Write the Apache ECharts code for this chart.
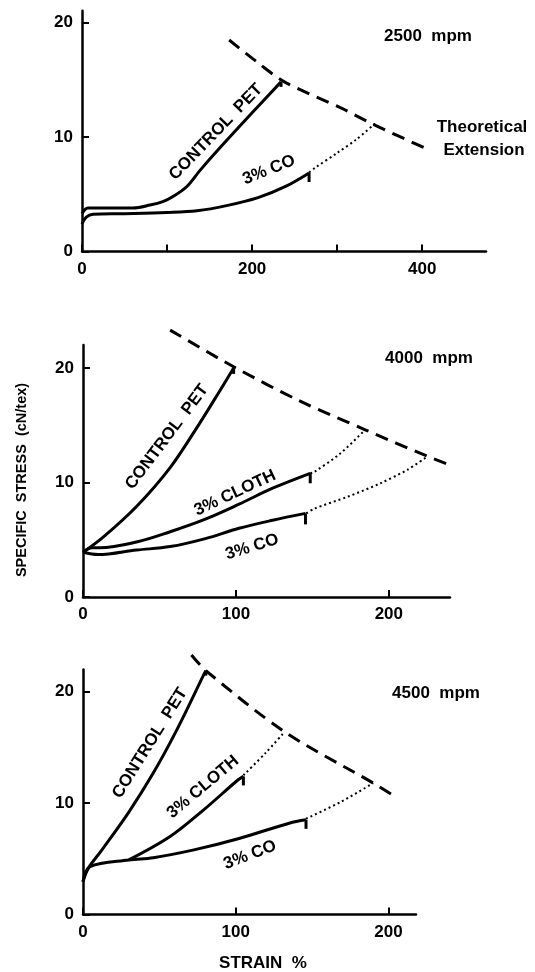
<!DOCTYPE html>
<html>
<head>
<meta charset="utf-8">
<script src="https://cdn.jsdelivr.net/npm/echarts@6/dist/echarts.min.js"></script>
<style>
  body { margin: 0; background: #fff; }
  #chart { width: 535px; height: 972px; }
</style>
</head>
<body>
<div id="chart"></div>
<script>
// ---- tick values / labels ----
var yTicks = [0, 10, 20];
var xTicks2500 = [0, 100, 200, 300, 400];
var xLabels2500 = [0, 200, 400];
var xTicksHigh = [0, 100, 200];

// ---- 2500 mpm ----
var pet2500 = [[0, 3.3], [7, 3.8], [30, 3.8], [60, 3.8], [80, 4.05], [95, 4.35], [107, 4.8], [123, 5.65], [139, 7.1], [164, 9.2], [200, 12.1], [234, 14.8]];
var co2500 = [[0, 2.4], [5, 3.0], [13, 3.25], [50, 3.3], [100, 3.4], [135, 3.55], [170, 4.0], [207, 4.7], [240, 5.7], [267, 6.85]];
var coExt2500 = [[267, 6.9], [274, 7.3], [300, 8.6], [323, 9.8], [345, 11.2]];
var theo2500 = [[173, 18.45], [208, 16.4], [238, 14.8], [305, 12.5], [345, 11.0], [407, 8.9]];

// ---- 4000 mpm ----
var pet4000 = [[0, 3.9], [13, 5.2], [35, 7.9], [57, 11.3], [75, 14.9], [89, 17.9], [98.5, 20.0]];
var cloth4000 = [[0, 3.9], [6, 4.3], [11, 4.3], [35, 4.8], [57, 5.7], [80, 6.8], [102, 8.1], [124, 9.5], [148.6, 10.8]];
var co4000 = [[0, 3.9], [10, 3.7], [35, 4.1], [57, 4.4], [80, 5.1], [102, 6.0], [124, 6.7], [145.5, 7.3]];
var clothExt4000 = [[148.6, 10.8], [151, 10.9], [168, 12.5], [184.5, 14.6]];
var coExt4000 = [[146, 7.3], [151, 7.7], [173, 8.75], [194, 9.9], [212, 11.1], [225, 12.25]];
var theo4000 = [[57, 23.3], [98.5, 20.1], [142, 17.1], [184.5, 14.6], [225, 12.3], [257.6, 10.6]];

// ---- 4500 mpm ----
var pet4500 = [[0, 2.95], [3.5, 4.15], [12.4, 5.8], [30, 9.2], [46, 12.7], [61.5, 16.6], [79.3, 21.6], [80.4, 21.9]];
var cloth4500 = [[30, 4.9], [57, 7.0], [79, 9.4], [101.6, 12.1], [105, 12.4]];
var co4500 = [[0, 2.95], [4.6, 4.3], [30, 4.9], [46, 5.1], [72.6, 5.8], [101.6, 6.8], [135, 8.2], [146, 8.5]];
var clothExt4500 = [[105, 12.5], [119.5, 14.5], [132, 16.4]];
var coExt4500 = [[146, 8.6], [168.6, 10.1], [190, 11.8]];
var theo4500 = [[71, 23.3], [80.4, 21.9], [132, 16.4], [190, 11.8], [204, 10.6]];

var font = "'Liberation Sans', Arial, sans-serif";
var myChart = echarts.init(document.getElementById("chart"));

function withBreak(data, len) {
    return data.map(function (p, i) {
        if (i === data.length - 1) {
            return { value: p, symbol: "rect", symbolSize: [3, len], symbolOffset: [0, "50%"] };
        }
        return p;
    });
}

function curve(idx, data, len) {
    return {
        type: "line", xAxisIndex: idx, yAxisIndex: idx,
        data: withBreak(data, len),
        smooth: 0.35,
        symbol: "none", showSymbol: true, showAllSymbol: true,
        itemStyle: { color: "#000" },
        lineStyle: { color: "#000", width: 3 },
        silent: true, z: 3
    };
}

function dotted(idx, data) {
    return {
        type: "line", xAxisIndex: idx, yAxisIndex: idx,
        data: data, smooth: 0.3, symbol: "none", clip: false,
        lineStyle: { color: "#000", width: 2, type: [2, 3] },
        silent: true
    };
}

function dashed(idx, data) {
    return {
        type: "line", xAxisIndex: idx, yAxisIndex: idx,
        data: data, smooth: 0.3, symbol: "none", clip: false,
        lineStyle: { color: "#000", width: 3, type: [13, 8] },
        silent: true
    };
}

function xAxis(idx, max, ticks, labels) {
    return {
        type: "value", gridIndex: idx, min: 0, max: max,
        axisLine: { lineStyle: { color: "#000", width: 2.5 } },
        axisTick: { inside: true, length: 7, customValues: ticks, lineStyle: { color: "#000", width: 2 } },
        axisLabel: { customValues: labels, color: "#000", fontSize: 17, fontWeight: "bold", fontFamily: font, margin: 9 },
        splitLine: { show: false }
    };
}

function yAxis(idx, max) {
    return {
        type: "value", gridIndex: idx, min: 0, max: max,
        axisLine: { show: true, lineStyle: { color: "#000", width: 2.5 } },
        axisTick: { show: true, inside: true, length: 7, customValues: yTicks, lineStyle: { color: "#000", width: 2 } },
        axisLabel: { customValues: yTicks, color: "#000", fontSize: 17, fontWeight: "bold", fontFamily: font, margin: 9 },
        splitLine: { show: false }
    };
}

function txt(text, x, y, deg, size) {
    return {
        type: "text", x: x, y: y, rotation: (deg || 0) * Math.PI / 180,
        style: { text: text, fill: "#000", font: "bold " + (size || 17) + "px " + font, align: "center", verticalAlign: "middle" },
        silent: true
    };
}

myChart.setOption({
    backgroundColor: "#fff",
    animation: false,
    grid: [
        { left: 82, top: 10.8, width: 404, height: 240.7 },
        { left: 83, top: 345, width: 367, height: 252 },
        { left: 83, top: 669.5, width: 333, height: 245 }
    ],
    xAxis: [
        xAxis(0, 475, xTicks2500, xLabels2500),
        xAxis(1, 240, xTicksHigh, xTicksHigh),
        xAxis(2, 218, xTicksHigh, xTicksHigh)
    ],
    yAxis: [yAxis(0, 21), yAxis(1, 22), yAxis(2, 22)],
    series: [
        dashed(0, theo2500),
        dotted(0, coExt2500),
        curve(0, pet2500, 5),
        curve(0, co2500, 9),

        dashed(1, theo4000),
        dotted(1, clothExt4000),
        dotted(1, coExt4000),
        curve(1, pet4000, 6),
        curve(1, cloth4000, 10),
        curve(1, co4000, 11),

        dashed(2, theo4500),
        dotted(2, clothExt4500),
        dotted(2, coExt4500),
        curve(2, pet4500, 5),
        curve(2, cloth4500, 9),
        curve(2, co4500, 9)
    ],
    graphic: [
        txt("2500  mpm", 428, 36),
        txt("Theoretical", 482, 127),
        txt("Extension", 484, 150),
        txt("CONTROL  PET", 216, 132, 46),
        txt("3% CO", 269, 170, 22),

        txt("4000  mpm", 429, 358),
        txt("CONTROL  PET", 167, 437, 53),
        txt("3% CLOTH", 235, 493, 25),
        txt("3% CO", 252, 547, 17),

        txt("4500  mpm", 436, 693),
        txt("CONTROL  PET", 150, 743, 58),
        txt("3% CLOTH", 203, 787, 40),
        txt("3% CO", 250, 855, 21),

        txt("SPECIFIC  STRESS  (cN/tex)", 22, 480, 90, 14.5),
        txt("STRAIN  %", 263, 963)
    ]
});
</script>
</body>
</html>
